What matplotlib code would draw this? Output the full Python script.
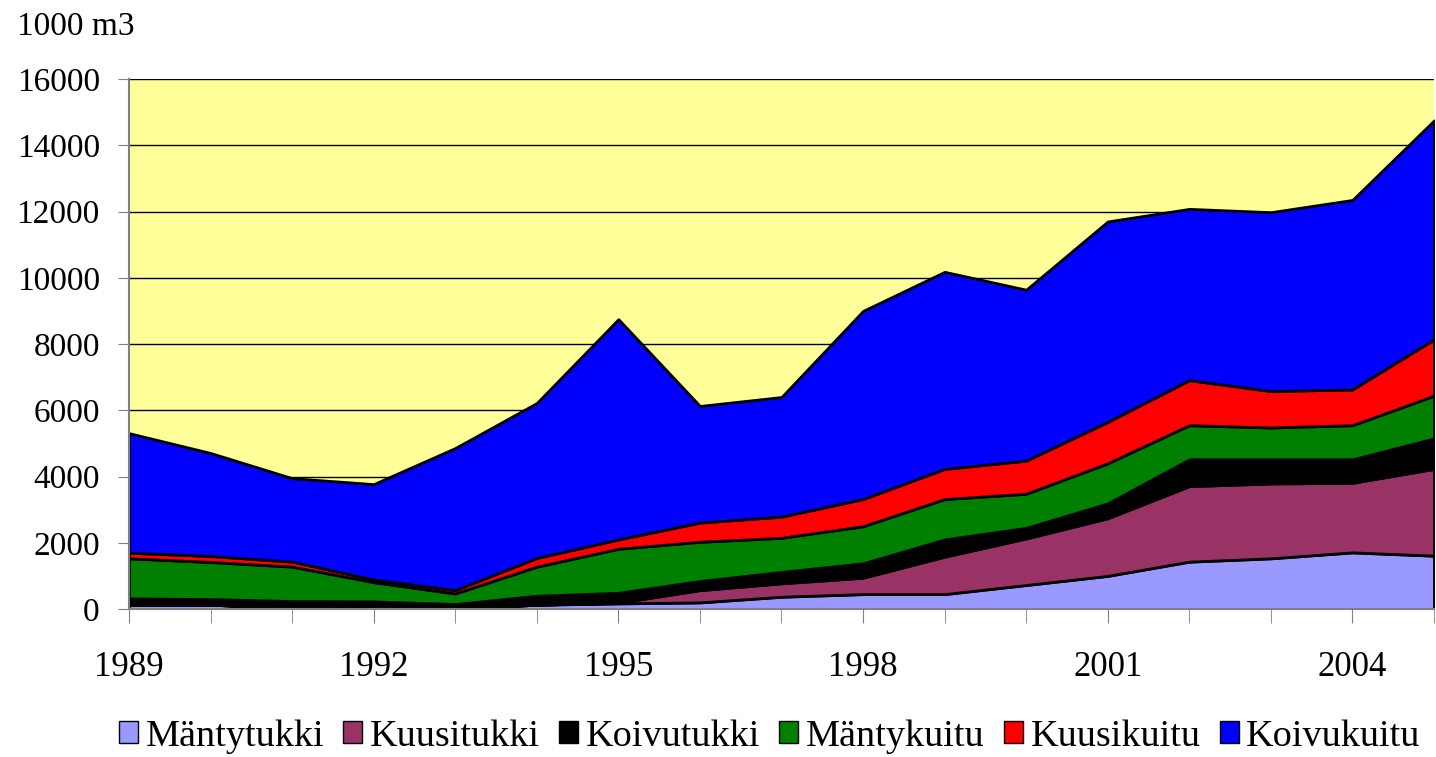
import matplotlib
matplotlib.use("Agg")
import matplotlib.pyplot as plt
from matplotlib.patches import Patch

plt.rcParams["font.family"] = ["Liberation Serif", "DejaVu Serif"]

# =====================
# data (1000 m3)
# =====================
years = list(range(1989, 2006))
labels = ["Mäntytukki", "Kuusitukki", "Koivutukki", "Mäntykuitu", "Kuusikuitu", "Koivukuitu"]
colors = ["#9999FF", "#993366", "#000000", "#008000", "#FF0000", "#0000FF"]

mantytukki = [130, 130, 30, 10, 10, 130, 170, 200, 370, 450, 450, 725, 1000, 1430, 1530, 1710, 1610]
kuusitukki = [0, 0, 0, 0, 0, 0, 20, 370, 405, 495, 1130, 1405, 1740, 2280, 2260, 2100, 2620]
koivutukki = [190, 170, 210, 220, 140, 270, 300, 275, 345, 435, 520, 320, 450, 810, 730, 710, 920]
mantykuitu = [1210, 1120, 1040, 580, 320, 880, 1330, 1185, 1030, 1120, 1220, 1030, 1210, 1030, 960, 1030, 1290]
kuusikuitu = [170, 180, 150, 80, 100, 260, 280, 580, 640, 820, 910, 1000, 1250, 1360, 1100, 1080, 1700]
koivukuitu = [3610, 3110, 2520, 2880, 4290, 4680, 6650, 3520, 3610, 5680, 5950, 5160, 6050, 5170, 5400, 5720, 6610]

series = [mantytukki, kuusitukki, koivutukki, mantykuitu, kuusikuitu, koivukuitu]
xtick_years = [1989, 1992, 1995, 1998, 2001, 2004]

# =====================
# plot
# =====================
fig = plt.figure(figsize=(14.36, 7.57), dpi=100)
ax = fig.add_axes([0.0898, 0.1955, 0.9088, 0.7001])
ax.set_facecolor("#FFFF99")

ax.stackplot(years, *series, colors=colors, edgecolor="black", linewidth=2, zorder=3)

ax.set_xlim(1989, 2005)
ax.set_ylim(0, 16000)
ax.set_yticks(range(0, 16001, 2000))
ax.set_xticks(years, minor=True)
ax.set_xticks(xtick_years)
ax.set_xticklabels([str(y) for y in xtick_years])

ax.grid(axis="y", color="black", linewidth=1, zorder=1)
ax.set_axisbelow(True)

for side in ["top", "right"]:
    ax.spines[side].set_visible(False)
for side in ["left", "bottom"]:
    ax.spines[side].set_color("#808080")
    ax.spines[side].set_linewidth(1.5)
    ax.spines[side].set_zorder(4)

ax.tick_params(axis="y", labelsize=24, length=8, color="#808080", pad=13)
ax.tick_params(axis="x", which="both", labelsize=25, length=10, color="#808080", pad=20)
ax.tick_params(axis="x", which="minor", labelbottom=False)

fig.text(0.012, 0.965, "1000 m3", fontsize=24, ha="left", va="center")

handles = [Patch(facecolor=c, edgecolor="black", linewidth=1) for c in colors]
fig.legend(handles, labels, loc="center", bbox_to_anchor=(0.536, 0.027), ncol=6,
           frameon=False, fontsize=27.5, handlelength=0.5, handleheight=0.5,
           handletextpad=0.2, columnspacing=0.5, borderpad=0.1)

fig.savefig("out.png", dpi=100)
